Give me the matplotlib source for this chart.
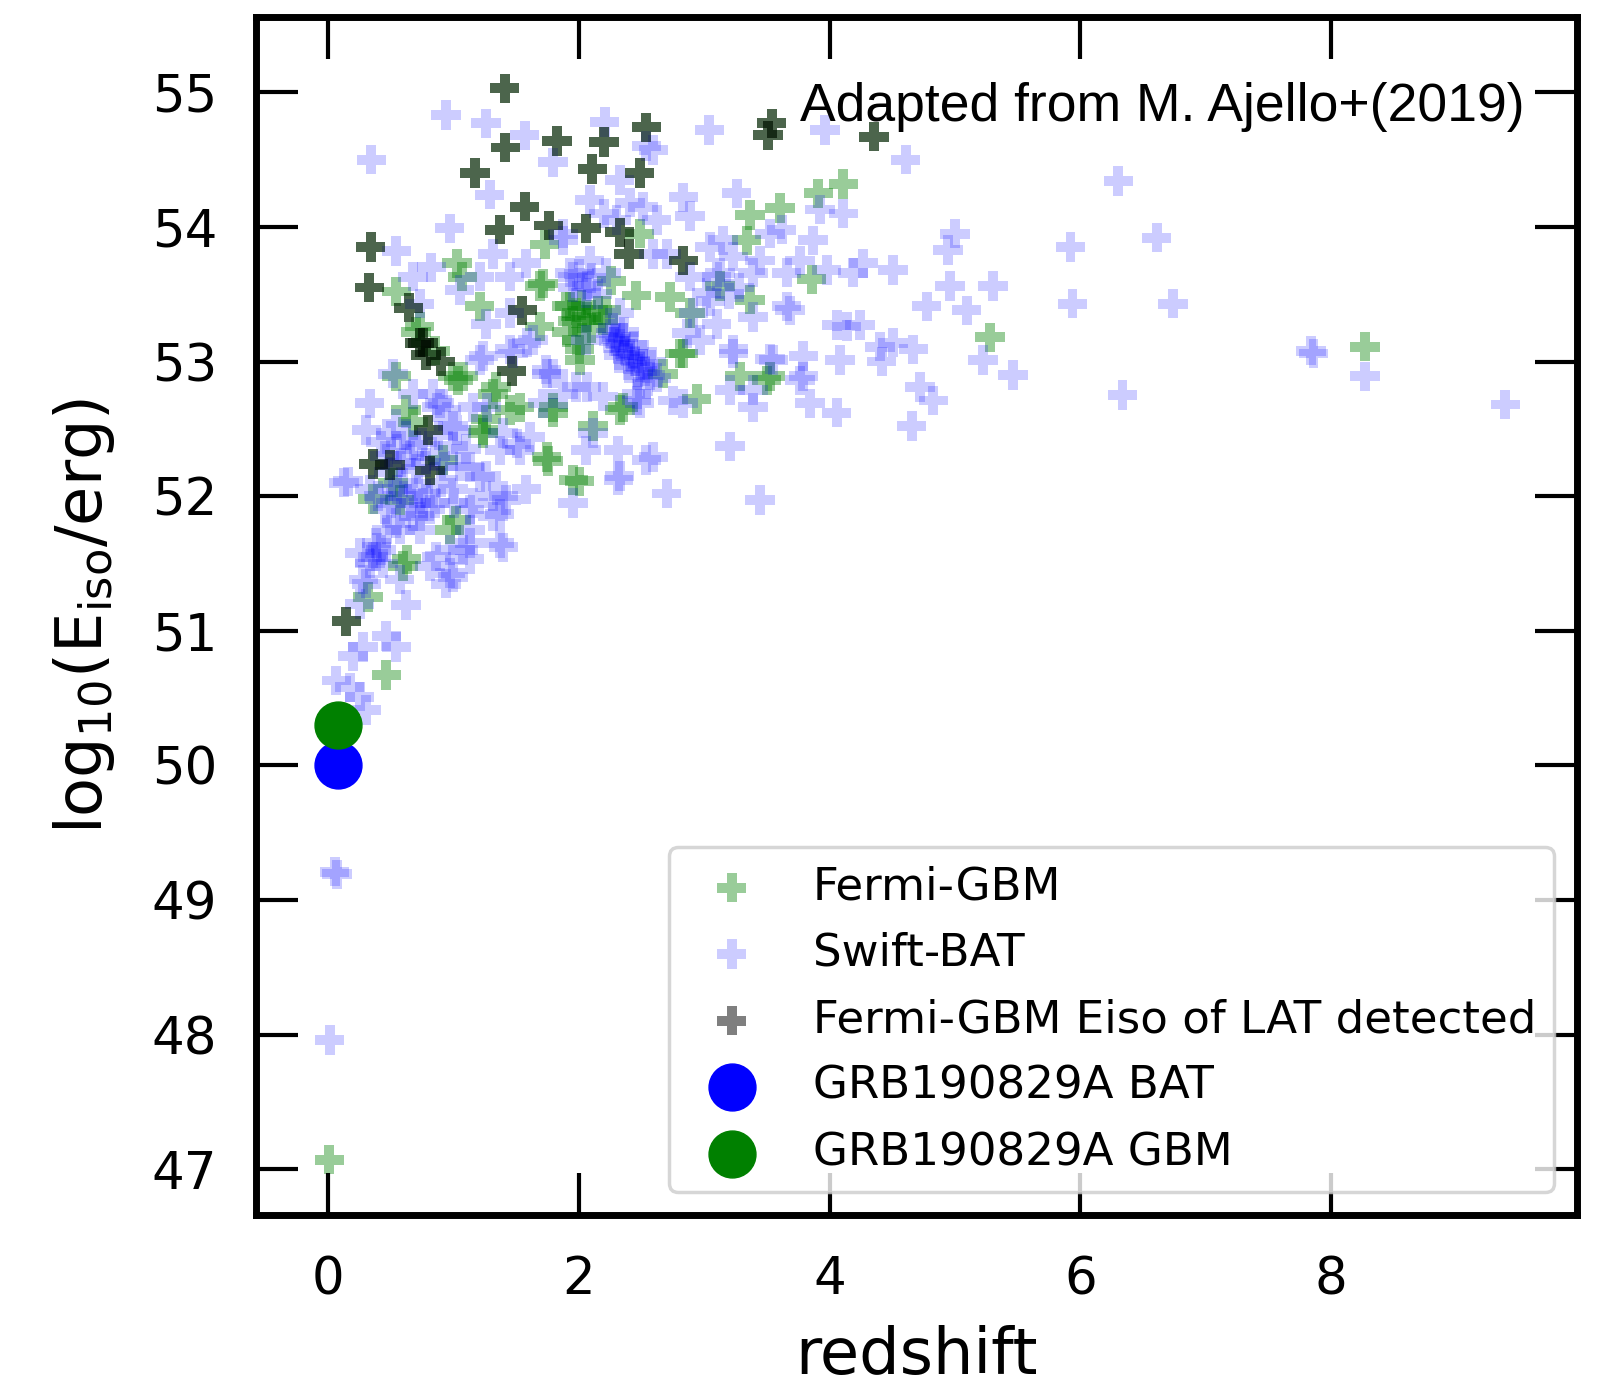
import matplotlib
matplotlib.use('Agg')
import matplotlib.pyplot as plt

# Fermi-GBM bursts also detected by LAT (redshift, log10 Eiso)
lat_z = [1.407, 1.412, 1.825, 2.200, 2.537, 1.170, 2.106, 2.484, 1.567, 1.758,
         1.367, 2.058, 2.325, 2.400, 0.338, 0.327, 0.641, 1.548, 0.755, 0.897,
         1.463, 0.798, 0.359, 0.492, 0.811, 0.144, 3.537, 3.510, 4.353, 2.832,
         0.730, 0.780]
lat_e = [55.03, 54.59, 54.64, 54.63, 54.74, 54.40, 54.43, 54.40, 54.15, 54.01,
         53.98, 53.99, 53.96, 53.80, 53.85, 53.55, 53.40, 53.38, 53.14, 53.00,
         52.93, 52.49, 52.24, 52.23, 52.19, 51.07, 54.77, 54.68, 54.67, 53.75,
         53.14, 53.05]

# other Fermi-GBM bursts
gbm_only_z = [1.726, 1.027, 1.069, 0.543, 2.258, 2.457, 2.484, 1.208, 1.713, 1.979,
              2.005, 0.729, 0.543, 0.995, 1.314, 1.686, 2.058, 1.899, 2.218, 1.075,
              1.340, 1.527, 0.622, 1.260, 1.234, 1.793, 2.112, 2.351, 1.753, 2.005,
              0.357, 0.570, 1.021, 0.969, 0.596, 0.625, 0.317, 0.463, 0.676, 0.915,
              0.516, 4.109, 3.910, 3.603, 3.364, 3.338, 2.726, 2.885, 3.364, 3.856,
              5.279, 2.832, 2.672, 3.284, 3.524, 2.939, 3.125, 8.270, 0.008, 3.497,
              2.327, 1.928, 2.061, 2.194, 1.980, 2.008, 1.689, 2.806, 1.450, 1.237,
              1.795, 1.742, 1.955, 1.037,
              1.950, 2.020, 2.100, 2.150, 1.900, 0.700, 0.850]
gbm_only_e = [53.87, 53.73, 53.63, 53.52, 53.60, 53.49, 53.95, 53.41, 53.58, 53.36,
              53.09, 53.26, 52.89, 52.89, 52.76, 53.26, 53.31, 53.41, 53.38, 52.89,
              52.81, 52.66, 52.64, 52.57, 52.47, 52.62, 52.52, 52.66, 52.26, 52.11,
              51.98, 51.97, 51.82, 51.75, 51.48, 51.53, 51.25, 50.67, 52.55, 52.27,
              52.10, 54.32, 54.25, 54.14, 54.09, 53.90, 53.48, 53.36, 53.46, 53.61,
              53.18, 53.06, 52.91, 52.89, 52.89, 52.72, 53.56, 53.11, 47.07, 52.86,
              52.64, 53.41, 53.33, 53.31, 53.16, 53.01, 53.56, 53.06, 52.64, 52.49,
              52.66, 52.29, 52.12, 52.86,
              53.30, 53.42, 53.25, 53.38, 53.22, 53.22, 53.08]

gbm_z = lat_z + gbm_only_z
gbm_e = lat_e + gbm_only_e

# Swift-BAT bursts
bat_z = [0.941, 1.260, 1.567, 2.205, 0.343, 1.793, 2.325, 1.288, 2.085, 2.510,
         0.969, 0.543, 1.314, 0.822, 0.676, 1.208, 1.447, 1.580, 1.872, 2.085,
         2.218, 1.952, 1.048, 0.729, 1.260, 1.447, 2.058, 2.325, 1.208, 1.473,
         1.633, 1.739, 2.058, 2.298, 2.191, 1.979, 1.154, 0.330, 0.516, 0.835,
         2.537,
         0.303, 0.157, 0.330, 0.543, 0.676, 0.889, 0.995, 0.995, 1.128, 0.596,
         0.782, 0.995, 1.260, 1.420, 1.580, 1.367, 1.128, 0.543, 0.729, 0.383,
         0.250, 0.357, 0.436, 0.862, 1.075, 1.128, 1.367, 0.995, 0.941, 0.570,
         0.303, 0.250, 0.622, 0.463, 0.543, 0.277, 0.197, 0.064, 0.171, 0.250,
         0.303, 1.713, 1.872, 2.325, 1.952, 2.058, 2.112, 2.537, 2.484, 1.527,
         1.394, 1.314,
         0.051, 0.070, 0.011,
         3.040, 3.962, 4.606, 2.593, 2.832, 3.258, 2.885, 3.922, 4.109, 3.617,
         3.869, 5.000, 4.946, 2.700, 3.045, 3.444, 3.763, 4.268, 4.507, 4.960,
         5.305, 4.774, 5.093, 4.188, 3.657, 4.136, 4.401, 4.667, 3.790, 3.231,
         3.550, 4.082, 4.720, 5.225, 3.390, 3.099, 3.657, 3.976, 3.390, 3.524,
         3.231, 2.620, 2.407, 3.151, 2.885, 3.099, 3.390, 3.763, 3.205, 2.832,
         3.683, 4.056, 4.242, 4.507, 4.415, 4.827, 4.654, 4.056, 3.843, 3.790,
         3.524, 3.390, 3.205, 3.444, 2.700, 2.593, 2.314, 2.314, 3.231, 2.965,
         2.752, 2.460,
         6.303, 5.922, 6.609, 5.937, 6.740, 5.464, 6.337, 7.860, 7.840, 8.270,
         9.390,
         0.758, 0.865, 0.945, 1.024, 1.050, 1.210, 1.237, 1.450, 1.742, 1.609,
         1.503, 1.370, 1.264, 1.396, 1.316, 1.157, 0.811, 0.678, 0.572, 0.732,
         1.130, 0.386, 0.333, 0.971, 1.130, 1.396, 0.971, 0.811, 0.279, 0.127,
         3.018, 2.912, 2.593, 3.125, 2.061, 1.928, 1.875, 1.583, 1.795, 2.061,
         2.460, 2.859,
         2.250, 2.290, 2.330, 2.370, 2.410, 2.450, 2.490, 2.530, 2.570, 2.310,
         2.390, 2.430, 2.350, 2.270, 2.510,
         0.450, 0.550, 0.650, 0.700, 0.600, 0.500, 0.750, 0.850, 0.900, 0.450,
         0.420, 0.380, 0.500, 0.620,
         3.200, 3.050, 3.280, 1.950, 2.000, 2.150, 2.100, 2.200, 2.300,
         0.420, 0.480, 0.580, 0.680, 0.720, 0.880, 0.920, 0.550, 0.660, 0.780,
         0.400, 0.470, 0.850, 1.000, 1.100,
         2.280, 2.360, 2.440, 2.500, 2.550, 2.620, 2.400, 2.470, 2.320, 2.580]
bat_e = [54.83, 54.77, 54.68, 54.78, 54.50, 54.48, 54.35, 54.24, 54.20, 54.15,
         53.99, 53.82, 53.80, 53.70, 53.63, 53.63, 53.63, 53.73, 53.95, 53.75,
         53.66, 53.63, 53.53, 53.43, 53.28, 53.36, 53.51, 53.36, 53.01, 53.06,
         53.16, 52.94, 53.16, 53.18, 52.74, 52.81, 52.66, 52.69, 52.91, 52.76,
         54.60,
         52.49, 52.11, 52.05, 52.54, 52.76, 52.69, 52.52, 52.37, 52.22, 52.10,
         52.02, 52.05, 52.15, 51.97, 52.05, 51.87, 51.90, 51.80, 51.85, 51.65,
         51.58, 51.55, 51.50, 51.55, 51.60, 51.53, 51.65, 51.40, 51.35, 51.38,
         51.35, 51.20, 51.19, 50.96, 50.88, 50.88, 50.81, 50.63, 50.58, 50.51,
         50.41, 52.69, 52.76, 52.15, 51.95, 52.34, 52.47, 52.27, 52.69, 52.34,
         52.47, 52.00,
         49.21, 49.19, 47.96,
         54.72, 54.72, 54.50, 54.57, 54.22, 54.25, 54.08, 54.13, 54.10, 53.98,
         53.90, 53.95, 53.83, 53.80, 53.85, 53.75, 53.75, 53.73, 53.68, 53.56,
         53.56, 53.41, 53.38, 53.66, 53.41, 53.26, 53.11, 53.09, 53.04, 53.09,
         53.01, 53.01, 52.81, 53.01, 53.33, 53.28, 53.66, 53.68, 53.66, 53.95,
         53.78, 54.05, 54.18, 53.90, 53.63, 53.63, 52.79, 52.86, 52.79, 52.69,
         53.38, 53.27, 53.27, 53.14, 53.00, 52.71, 52.52, 52.62, 52.69, 52.89,
         53.02, 52.66, 52.37, 51.97, 52.02, 52.29, 52.34, 52.12, 53.06, 53.16,
         52.71, 52.71,
         54.34, 53.85, 53.92, 53.43, 53.43, 52.90, 52.75, 53.06, 53.08, 52.89,
         52.68,
         51.95, 52.66, 52.64, 52.49, 52.22, 52.14, 53.04, 53.09, 52.91, 52.44,
         52.39, 52.34, 52.66, 52.00, 51.85, 51.95, 51.90, 51.85, 51.75, 51.75,
         51.75, 51.62, 51.50, 51.60, 51.65, 51.62, 51.43, 51.48, 51.38, 52.10,
         53.51, 53.36, 53.80, 53.66, 53.56, 53.66, 53.90, 53.14, 52.91, 52.81,
         52.76, 53.21,
         53.21, 53.17, 53.13, 53.08, 53.04, 53.00, 52.96, 52.93, 52.90, 53.10,
         53.02, 53.06, 53.18, 53.25, 52.98,
         52.30, 52.35, 52.30, 52.20, 52.00, 51.95, 52.40, 52.30, 52.10, 51.90,
         51.60, 51.55, 52.45, 52.45,
         53.50, 53.45, 53.55, 53.55, 53.65, 53.50, 53.62, 54.10, 54.05,
         52.40, 52.18, 52.25, 52.38, 52.05, 52.45, 52.22, 52.05, 51.95, 52.25,
         52.00, 51.75, 51.95, 51.95, 52.35,
         53.15, 53.22, 53.12, 53.05, 52.85, 52.88, 52.95, 52.90, 53.05, 53.00]

# GRB190829A
grb_z = 0.0785
grb_bat_e = 50.00
grb_gbm_e = 50.30

plt.rcParams['font.family'] = 'DejaVu Sans'
plt.rcParams['mathtext.fontset'] = 'dejavusans'

fig = plt.figure(figsize=(16.08, 13.87), dpi=100)
ax = fig.add_axes([0.1594, 0.124, 0.8213, 0.8634])

ax.scatter(gbm_z, gbm_e, marker='P', s=450, color='green', alpha=0.4,
           edgecolors='none', label='Fermi-GBM')
ax.scatter(bat_z, bat_e, marker='P', s=450, color='blue', alpha=0.2,
           edgecolors='none', label='Swift-BAT')
ax.scatter(lat_z, lat_e, marker='P', s=450, color='black', alpha=0.5,
           edgecolors='none', label='Fermi-GBM Eiso of LAT detected')
ax.scatter([grb_z], [grb_bat_e], marker='o', s=1140, color='blue',
           label='GRB190829A BAT')
ax.scatter([grb_z], [grb_gbm_e], marker='o', s=1140, color='green',
           label='GRB190829A GBM')

ax.set_xlim(-0.574, 9.962)
ax.set_ylim(46.659, 55.556)
ax.set_xticks([0, 2, 4, 6, 8])
ax.set_yticks([47, 48, 49, 50, 51, 52, 53, 54, 55])

for sp in ax.spines.values():
    sp.set_linewidth(5)
ax.tick_params(which='major', direction='in', length=30, width=3,
               top=True, right=True, labelsize=37)
ax.tick_params(axis='x', pad=29)
ax.tick_params(axis='y', pad=28)

ax.set_xlabel('redshift', fontsize=46, labelpad=14)
ax.set_ylabel(r'log$_{10}$(E$_{\rm iso}$/erg)', fontsize=46, labelpad=25)

ax.text(3.763, 54.787, 'Adapted from M. Ajello+(2019)', fontsize=38.5,
        family='Liberation Sans', ha='left', va='baseline')

leg = ax.legend(loc='lower right', fontsize=32.5, framealpha=0.8,
                handletextpad=0.8, labelspacing=0.52)
leg.get_frame().set_linewidth(2.5)

fig.savefig('out.png', dpi=100)
